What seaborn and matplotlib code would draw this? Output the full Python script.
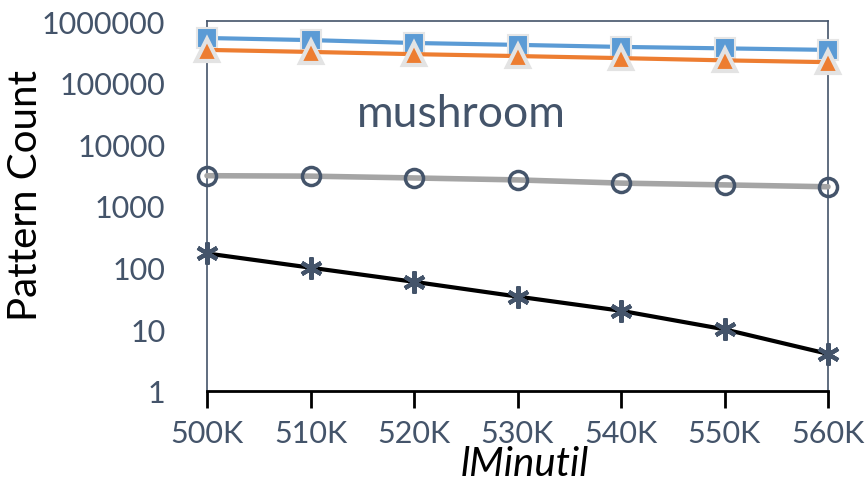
import numpy as np
import pandas as pd
import matplotlib
matplotlib.use("Agg")
import matplotlib.pyplot as plt
import seaborn as sns

# lMinutil thresholds (in thousands) and tick labels
minutil = [500, 510, 520, 530, 540, 550, 560]
tick_labels = ["500K", "510K", "520K", "530K", "540K", "550K", "560K"]

# Pattern counts for each method on the mushroom dataset
series_square = [530000, 490000, 440000, 410000, 380000, 360000, 340000]
series_triangle = [340000, 315000, 290000, 270000, 250000, 230000, 215000]
series_circle = [3100, 3050, 2850, 2650, 2350, 2200, 2050]
series_star = [170, 100, 59, 34, 20, 10, 4]

sns.set_theme(style="white")
plt.rcParams["font.family"] = ["Lato", "DejaVu Sans"]

slate = "#44546A"

fig = plt.figure(figsize=(8.66, 4.85), dpi=100)
ax = fig.add_axes([207 / 866, 1 - 392 / 485, (828 - 207) / 866, (392 - 22) / 485])

df = pd.DataFrame({"x": minutil, "sq": series_square, "tri": series_triangle,
                   "circ": series_circle, "star": series_star})

sns.lineplot(data=df, x="x", y="sq", ax=ax, color="#5B9BD5", lw=3,
             marker="s", markersize=15, markerfacecolor="#5B9BD5",
             markeredgecolor="#E6E6E6", markeredgewidth=1.5, zorder=4)
sns.lineplot(data=df, x="x", y="tri", ax=ax, color="#ED7D31", lw=3,
             marker="^", markersize=16, markerfacecolor="#ED7D31",
             markeredgecolor="#E3E3E3", markeredgewidth=3, zorder=5)
sns.lineplot(data=df, x="x", y="circ", ax=ax, color="#A5A5A5", lw=4,
             marker="o", markersize=13, markerfacecolor="none",
             markeredgecolor=slate, markeredgewidth=2.5, zorder=4)
sns.lineplot(data=df, x="x", y="star", ax=ax, color="black", lw=3,
             marker=(6, 2, 0), markersize=16, markerfacecolor=slate,
             markeredgecolor=slate, markeredgewidth=3, zorder=4)

ax.set_yscale("log")
ax.set_ylim(1, 1000000)
ax.set_xlim(500, 560)
ax.set_yticks([1, 10, 100, 1000, 10000, 100000, 1000000])
ax.set_yticklabels(["1", "10", "100", "1000", "10000", "100000", "1000000"])
ax.minorticks_off()
ax.set_xticks(minutil)
ax.set_xticklabels(tick_labels)

ax.tick_params(axis="y", left=False, labelsize=22, labelcolor=slate, pad=24)
ax.tick_params(axis="x", bottom=True, direction="out", length=12, width=2,
               color="black", labelsize=22, labelcolor=slate, pad=8)

for side in ["left", "right", "top"]:
    ax.spines[side].set_color(slate)
    ax.spines[side].set_linewidth(1.2)
ax.spines["bottom"].set_color("black")
ax.spines["bottom"].set_linewidth(2)

ax.set_xlabel("lMinutil", fontsize=29, style="italic", color="black")
ax.xaxis.set_label_coords(0.512, -0.145)
ax.set_ylabel("Pattern Count", fontsize=29, color="black")
ax.yaxis.set_label_coords(-0.262, 0.53)

ax.text(0.41, 0.716, "mushroom", transform=ax.transAxes, ha="center",
        va="baseline", fontsize=32, color=slate)

for ln in ax.lines:
    ln.set_clip_on(False)

fig.savefig("out.png", dpi=100)
